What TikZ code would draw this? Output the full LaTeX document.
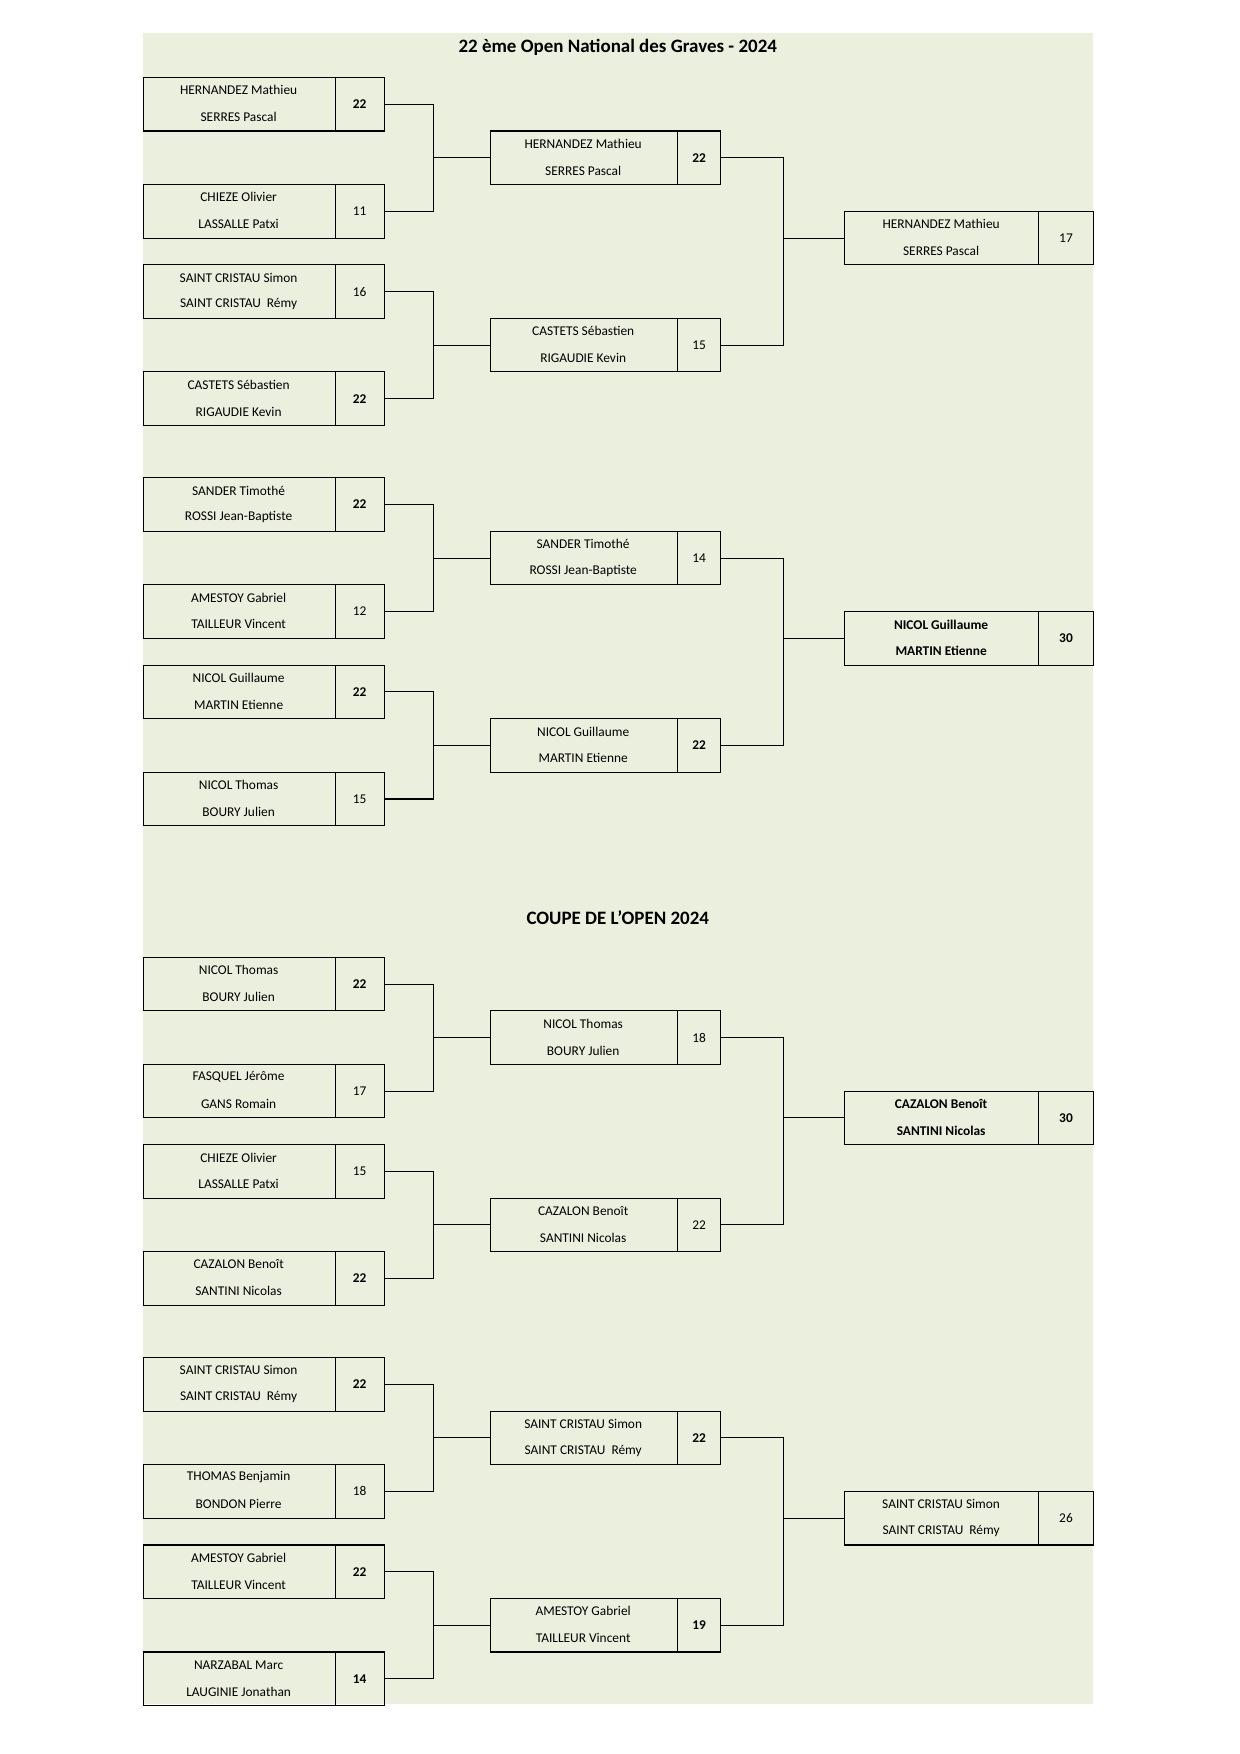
\documentclass[tikz,border=0pt]{standalone}
\usepackage{fontspec}
\setmainfont{Carlito}
\definecolor{bg}{RGB}{235,239,222}
\begin{document}
\begin{tikzpicture}[x=1pt,y=1pt,
  cell/.style={draw, line width=1pt, inner sep=0pt, anchor=north west, minimum height=48},
  txt/.style={font=\fontsize{12}{14}\selectfont, inner sep=0pt},
  con/.style={line width=1pt}]
\useasboundingbox (0,0) rectangle (1112,-1573);
\fill[bg] (128,-30) rectangle (980,-1528);
\newcommand\mt[8]{%
  \node[cell, minimum width={#3-#2}] (#1) at (#2,-#5) {};
  \node[cell, minimum width={#4-#3}] (#1-s) at (#3,-#5) {};
  \node[txt] (#1-a) at ({(#2+#3)/2},{-#5-12}) {#6};
  \node[txt] (#1-b) at ({(#2+#3)/2},{-#5-36}) {#7};
  \node[txt] (#1-c) at (#1-s.center) {#8};}
\newcommand\ra[6]{\mt{#1}{128}{300}{344}{#2}{#3}{#4}{#5}}
\newcommand\rb[6]{\mt{#1}{439}{607}{646}{#2}{#3}{#4}{#5}}
\newcommand\rc[6]{\mt{#1}{757}{931}{980}{#2}{#3}{#4}{#5}}
\node[font=\fontsize{17}{20}\selectfont\bfseries] (t1) at (554,-42) {22 ème Open National des Graves - 2024};
\node[font=\fontsize{17}{20}\selectfont\bfseries] (t2) at (554,-823) {COUPE DE L'OPEN 2024};
% Open
\ra{a1}{69}{HERNANDEZ Mathieu}{SERRES Pascal}{\bfseries 22}{}
\ra{a2}{165}{CHIEZE Olivier}{LASSALLE Patxi}{11}{}
\ra{a3}{237}{SAINT CRISTAU Simon}{SAINT CRISTAU\ \ Rémy}{16}{}
\ra{a4}{333}{CASTETS Sébastien}{RIGAUDIE Kevin}{\bfseries 22}{}
\ra{a5}{428}{SANDER Timothé}{ROSSI Jean-Baptiste}{\bfseries 22}{}
\ra{a6}{524}{AMESTOY Gabriel}{TAILLEUR Vincent}{12}{}
\ra{a7}{596}{NICOL Guillaume}{MARTIN Etienne}{\bfseries 22}{}
\ra{a8}{692}{NICOL Thomas}{BOURY Julien}{15}{}
\rb{b1}{117}{HERNANDEZ Mathieu}{SERRES Pascal}{\bfseries 22}{}
\rb{b2}{285}{CASTETS Sébastien}{RIGAUDIE Kevin}{15}{}
\rb{b3}{476}{SANDER Timothé}{ROSSI Jean-Baptiste}{14}{}
\rb{b4}{644}{NICOL Guillaume}{MARTIN Etienne}{\bfseries 22}{}
\rc{c1}{189}{HERNANDEZ Mathieu}{SERRES Pascal}{17}{}
\rc{c2}{548}{\bfseries NICOL Guillaume}{\bfseries MARTIN Etienne}{\bfseries 30}{}
% Coupe
\ra{d1}{858}{NICOL Thomas}{BOURY Julien}{\bfseries 22}{}
\ra{d2}{954}{FASQUEL Jérôme}{GANS Romain}{17}{}
\ra{d3}{1026}{CHIEZE Olivier}{LASSALLE Patxi}{15}{}
\ra{d4}{1122}{CAZALON Benoît}{SANTINI Nicolas}{\bfseries 22}{}
\ra{d5}{1217}{SAINT CRISTAU Simon}{SAINT CRISTAU\ \ Rémy}{\bfseries 22}{}
\ra{d6}{1313}{THOMAS Benjamin}{BONDON Pierre}{18}{}
\ra{d7}{1385}{AMESTOY Gabriel}{TAILLEUR Vincent}{\bfseries 22}{}
\ra{d8}{1481}{NARZABAL Marc}{LAUGINIE Jonathan}{\bfseries 14}{}
\rb{e1}{906}{NICOL Thomas}{BOURY Julien}{18}{}
\rb{e2}{1074}{CAZALON Benoît}{SANTINI Nicolas}{22}{}
\rb{e3}{1265}{SAINT CRISTAU Simon}{SAINT CRISTAU\ \ Rémy}{\bfseries 22}{}
\rb{e4}{1433}{AMESTOY Gabriel}{TAILLEUR Vincent}{\bfseries 19}{}
\rc{f1}{978}{\bfseries CAZALON Benoît}{\bfseries SANTINI Nicolas}{\bfseries 30}{}
\rc{f2}{1337}{SAINT CRISTAU Simon}{SAINT CRISTAU\ \ Rémy}{26}{}
% connectors
\foreach \p/\q/\m in {a1/a2/b1,a3/a4/b2,a5/a6/b3,a7/a8/b4,d1/d2/e1,d3/d4/e2,d5/d6/e3,d7/d8/e4}{
  \draw[con] (\p-s.east) -- ++(44,0) |- (\m.west);
  \draw[con] (\q-s.east) -- ++(44,0) |- (\m.west);}
\foreach \p/\q/\m in {b1/b2/c1,b3/b4/c2,e1/e2/f1,e3/e4/f2}{
  \draw[con] (\p-s.east) -- ++(56,0) |- (\m.west);
  \draw[con] (\q-s.east) -- ++(56,0) |- (\m.west);}
\end{tikzpicture}
\end{document}
